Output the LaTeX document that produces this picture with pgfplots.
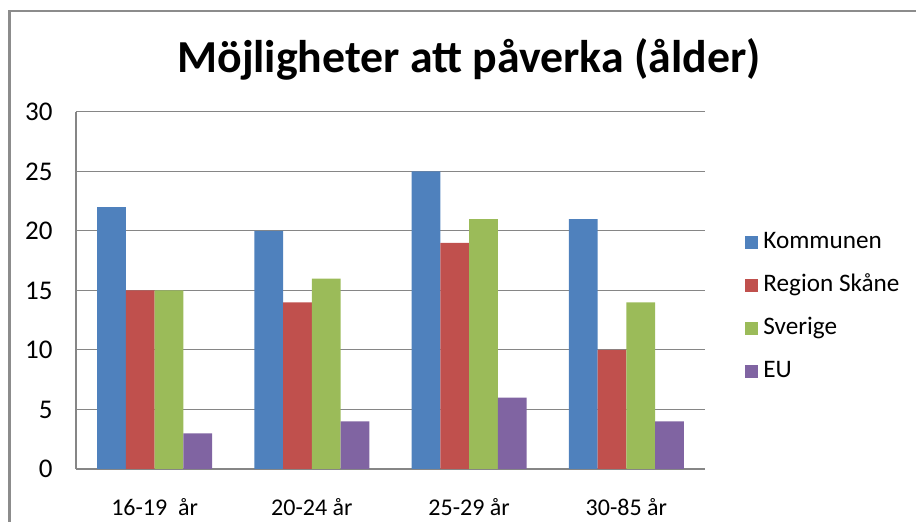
\documentclass[border=0pt]{standalone}
\usepackage{fontspec}
\setmainfont{Carlito}
\usepackage{pgfplots}
\pgfplotsset{compat=1.18}
\definecolor{kblue}{HTML}{4F81BD}
\definecolor{kred}{HTML}{C0504D}
\definecolor{kgreen}{HTML}{9BBB59}
\definecolor{kpurple}{HTML}{8064A2}
\definecolor{gridgray}{HTML}{868686}
\definecolor{framegray}{HTML}{8C8C8C}
\begin{document}
\begin{tikzpicture}[x=0.5pt,y=0.5pt]
\useasboundingbox (0,0) rectangle (916,522);
\draw[color=framegray, line width=1.25pt] (9.5,-20) -- (9.5,511) -- (940,511);
\node[anchor=base, font=\fontsize{22.9}{27}\selectfont\bfseries] at (469,449) {Möjligheter att påverka (ålder)};
\begin{axis}[
 at={(38pt,26.5pt)}, anchor=south west,
 scale only axis, width=314.5pt, height=178.5pt,
 ybar=0pt, bar width=14.4pt,
 xmin=-0.5, xmax=3.5, ymin=0, ymax=30,
 xtick={0,1,2,3}, xticklabels={16-19\ \ år, 20-24 år, 25-29 år, 30-85 år},
 ytick={0,5,...,30},
 ymajorgrids, grid style={color=gridgray, line width=0.5pt},
 axis x line*=bottom, axis y line*=left,
 axis line style={color=gridgray, line width=0.6pt, -},
 every outer x axis line/.append style={-},
 every outer y axis line/.append style={-},
 tick style={draw=none},
 /pgf/number format/assume math mode=true,
 yticklabel style={font=\fontsize{13.5}{15}\selectfont, anchor=east, inner xsep=0pt, xshift=-11.5pt},
 xticklabel style={font=\fontsize{12}{14}\selectfont, anchor=base, yshift=-19pt},
 legend style={at={(1.0636,0.455)}, anchor=west, draw=none, fill=none, inner sep=0pt,
   row sep=10.5pt, font=\fontsize{12.6}{14}\selectfont,
   nodes={inner xsep=2.5pt, inner ysep=0pt, text height=8.5pt, text depth=2.5pt}},
 legend cell align=left,
 legend image code/.code={\fill[#1,draw=none] (0pt,-3.25pt) rectangle (6.5pt,3.25pt);},
]
\addplot[fill=kblue, draw=none] coordinates {(0,22) (1,20) (2,25) (3,21)};
\addplot[fill=kred, draw=none] coordinates {(0,15) (1,14) (2,19) (3,10)};
\addplot[fill=kgreen, draw=none] coordinates {(0,15) (1,16) (2,21) (3,14)};
\addplot[fill=kpurple, draw=none] coordinates {(0,3) (1,4) (2,6) (3,4)};
\legend{Kommunen, Region Skåne, Sverige, EU}
\end{axis}
\end{tikzpicture}
\end{document}
